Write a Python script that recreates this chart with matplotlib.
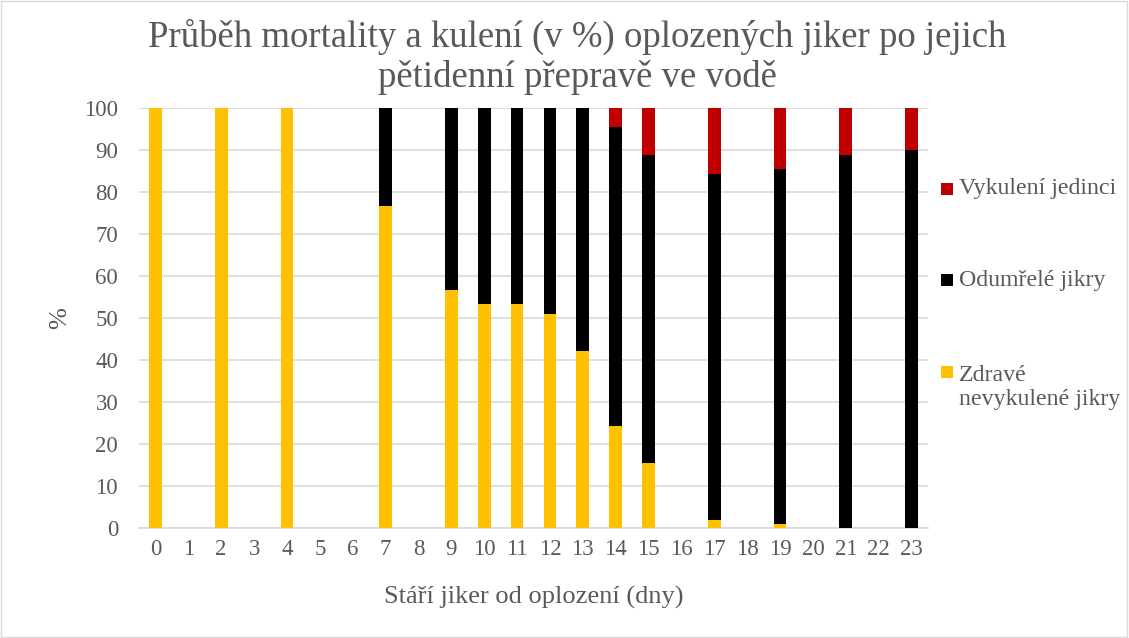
import numpy as np
import matplotlib
matplotlib.use("Agg")
import matplotlib.pyplot as plt
from matplotlib.patches import Rectangle

days = [str(d) for d in range(24)]
# values per day (NaN where no sample)
zdrave = [100, np.nan, 100, np.nan, 100, np.nan, np.nan, 76.7, np.nan, 56.7, 53.3, 53.3, 51.1, 42.1,
          24.4, 15.5, np.nan, 2.0, np.nan, 1.0, np.nan, 0.0, np.nan, 0.0]
odumrele = [0, np.nan, 0, np.nan, 0, np.nan, np.nan, 23.3, np.nan, 43.3, 46.7, 46.7, 48.9, 57.9,
            71.1, 73.4, np.nan, 82.4, np.nan, 84.5, np.nan, 88.9, np.nan, 90.0]
vykuleni = [0, np.nan, 0, np.nan, 0, np.nan, np.nan, 0, np.nan, 0, 0, 0, 0, 0,
            4.5, 11.1, np.nan, 15.6, np.nan, 14.5, np.nan, 11.1, np.nan, 10.0]
series_names = ["Zdravé\nnevykulené jikry", "Odumřelé jikry", "Vykulení jedinci"]
colors = ["#FFC000", "#000000", "#C00000"]

plt.rcParams['font.family'] = ['Liberation Serif', 'DejaVu Serif']
txt = "#595959"
W, H = 1129, 638

fig = plt.figure(figsize=(W / 100, H / 100), dpi=100)
ax = fig.add_axes([139 / W, 1 - 528.3 / H, (928 - 139) / W, (528.3 - 108.3) / H])

x = np.arange(len(days))
z = np.nan_to_num(np.array(zdrave, dtype=float))
o = np.nan_to_num(np.array(odumrele, dtype=float))
v = np.nan_to_num(np.array(vykuleni, dtype=float))
w = 0.39
ax.bar(x, z, w, color=colors[0], zorder=3)
ax.bar(x, o, w, bottom=z, color=colors[1], zorder=3)
ax.bar(x, v, w, bottom=z + o, color=colors[2], zorder=3)

ax.set_xlim(-0.5, len(days) - 0.5)
ax.set_ylim(0, 100)
ax.set_yticks(np.arange(0, 101, 10))
ax.set_xticks(x)
ax.set_xticklabels(days)
ax.yaxis.grid(True, color="#D9D9D9", linewidth=1.2, zorder=0)
ax.set_axisbelow(True)
for s in ["top", "right", "left"]:
    ax.spines[s].set_visible(False)
ax.spines["bottom"].set_color("#D9D9D9")
ax.spines["bottom"].set_linewidth(1.2)
ax.tick_params(axis="both", length=0, labelsize=16.5, colors=txt)
ax.tick_params(axis="y", pad=15)
ax.tick_params(axis="x", pad=8)

ax.set_xlabel("Stáří jiker od oplození (dny)", fontsize=19, color=txt)
ax.xaxis.set_label_coords(0.5, -(586 - 528.3) / (528.3 - 108.3))
ax.set_ylabel("%", fontsize=19, color=txt)
ax.yaxis.set_label_coords(-(139 - 71) / (928 - 139), 0.5)

fig.text(577 / W, 1 - 19 / H,
         "Průběh mortality a kulení (v %) oplozených jiker po jejich\npětidenní přepravě ve vodě",
         fontsize=26.5, color=txt, ha="center", va="top", linespacing=1.17)

# legend (drawn manually so the marker sits beside the first line, as in the original)
leg_items = [(series_names[2], colors[2], 189), (series_names[1], colors[1], 280),
             (series_names[0], colors[0], 372)]
for label, col, yc in leg_items:
    fig.add_artist(Rectangle((941 / W, 1 - (yc + 6) / H), 12 / W, 12 / H,
                             transform=fig.transFigure, facecolor=col, edgecolor="none"))
    if "\n" in label:
        fig.text(959 / W, 1 - (yc - 7) / H, label, fontsize=17.2, color=txt,
                 ha="left", va="top", linespacing=1.2)
    else:
        fig.text(959 / W, 1 - yc / H, label, fontsize=17.2, color=txt,
                 ha="left", va="center")

fig.add_artist(Rectangle((0.001, 0.002), 0.997, 0.996, transform=fig.transFigure,
                         fill=False, edgecolor="#D9D9D9", linewidth=1))

fig.savefig("out.png", dpi=100)
